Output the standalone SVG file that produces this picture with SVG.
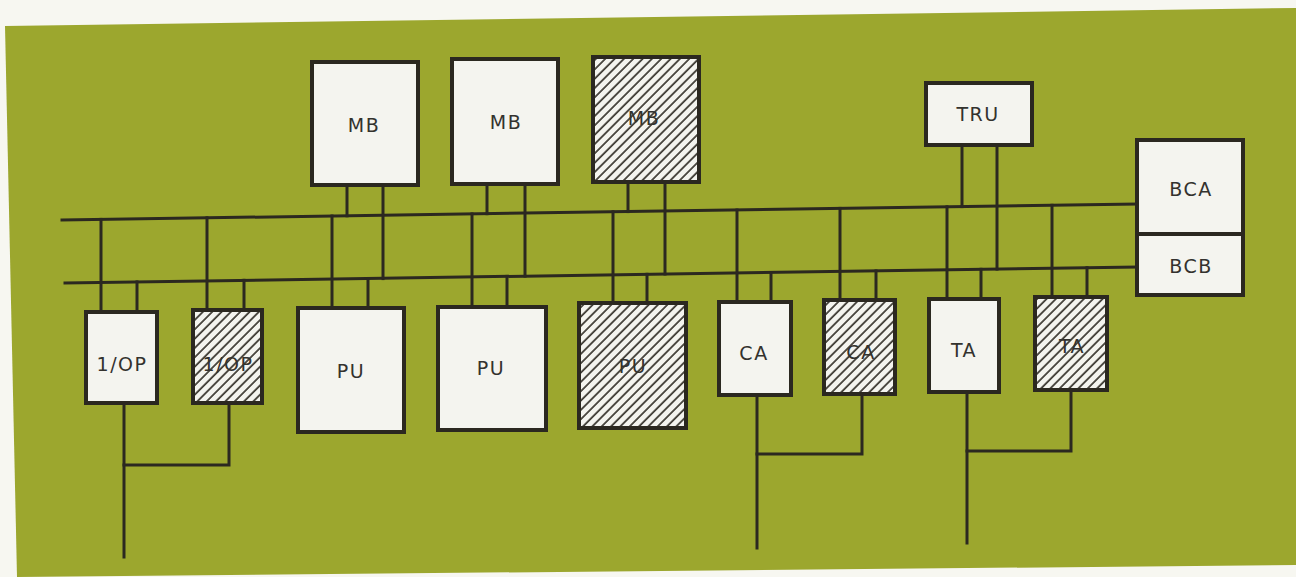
<svg xmlns="http://www.w3.org/2000/svg" width="1296" height="577" viewBox="0 0 1296 577">
<style>
.box{fill:#f4f4ef;stroke:#2b2820;stroke-width:4}
.hbox{fill:url(#hatch);stroke:#2b2820;stroke-width:4}
.ln{stroke:#2b2820;stroke-width:3;fill:none;stroke-linecap:square}
.lbl{font-family:"DejaVu Sans","Liberation Sans",sans-serif;font-size:19px;fill:#33322e;text-anchor:middle;letter-spacing:1.5px}
</style>
<defs>
<pattern id="hatch" patternUnits="userSpaceOnUse" width="6.6" height="6.6" patternTransform="rotate(45)">
<rect width="6.6" height="6.6" fill="#f4f4ef"/>
<line x1="1" y1="0" x2="1" y2="6.6" stroke="#2b2820" stroke-width="1.6"/>
</pattern>
</defs>
<rect width="1296" height="577" fill="#f7f7f1"/>
<polygon points="5,26 1296,8 1296,565 17,577" fill="#9ca72e"/>
<g id="connectors">
<line class="ln" x1="62" y1="220" x2="1137" y2="204"/>
<line class="ln" x1="65" y1="283" x2="1137" y2="267"/>
<line class="ln" x1="101" y1="219.4" x2="101" y2="312"/>
<line class="ln" x1="137" y1="281.9" x2="137" y2="312"/>
<line class="ln" x1="207" y1="217.8" x2="207" y2="310"/>
<line class="ln" x1="244" y1="280.3" x2="244" y2="310"/>
<line class="ln" x1="347" y1="185" x2="347" y2="215.8"/>
<line class="ln" x1="383" y1="185" x2="383" y2="278.6"/>
<line class="ln" x1="332" y1="216" x2="332" y2="308"/>
<line class="ln" x1="368" y1="278.5" x2="368" y2="308"/>
<line class="ln" x1="487" y1="184" x2="487" y2="213.7"/>
<line class="ln" x1="525" y1="184" x2="525" y2="276.1"/>
<line class="ln" x1="472" y1="213.9" x2="472" y2="307"/>
<line class="ln" x1="507" y1="276.4" x2="507" y2="307"/>
<line class="ln" x1="628" y1="182" x2="628" y2="211.6"/>
<line class="ln" x1="665" y1="182" x2="665" y2="274"/>
<line class="ln" x1="613" y1="211.8" x2="613" y2="303"/>
<line class="ln" x1="647" y1="274.3" x2="647" y2="303"/>
<line class="ln" x1="737" y1="210" x2="737" y2="302"/>
<line class="ln" x1="771" y1="272.5" x2="771" y2="302"/>
<line class="ln" x1="840" y1="208.4" x2="840" y2="300"/>
<line class="ln" x1="876" y1="270.9" x2="876" y2="300"/>
<line class="ln" x1="962" y1="145" x2="962" y2="206.6"/>
<line class="ln" x1="997" y1="145" x2="997" y2="269.1"/>
<line class="ln" x1="947" y1="206.8" x2="947" y2="299"/>
<line class="ln" x1="981" y1="269.3" x2="981" y2="299"/>
<line class="ln" x1="1052" y1="205.3" x2="1052" y2="297"/>
<line class="ln" x1="1087" y1="267.7" x2="1087" y2="297"/>
<polyline class="ln" points="124,403 124,557"/>
<polyline class="ln" points="229,403 229,465 124,465"/>
<polyline class="ln" points="757,395 757,548"/>
<polyline class="ln" points="862,394 862,454 757,454"/>
<polyline class="ln" points="967,392 967,543"/>
<polyline class="ln" points="1071,390 1071,451 967,451"/>
</g>
<g id="mb1"><rect class="box" x="312" y="62" width="106" height="123"/><text class="lbl" x="364" y="132">MB</text></g>
<g id="mb2"><rect class="box" x="452" y="59" width="106" height="125"/><text class="lbl" x="506" y="129">MB</text></g>
<g id="mb3"><rect class="hbox" x="593" y="57" width="106" height="125"/><text class="lbl" x="644" y="125">MB</text></g>
<g id="tru"><rect class="box" x="926" y="83" width="106" height="62"/><text class="lbl" x="978" y="121">TRU</text></g>
<g id="bca"><rect class="box" x="1137" y="140" width="106" height="94"/><text class="lbl" x="1191" y="196">BCA</text></g>
<g id="bcb"><rect class="box" x="1137" y="234" width="106" height="61"/><text class="lbl" x="1191" y="273">BCB</text></g>
<g id="iop1"><rect class="box" x="86" y="312" width="71" height="91"/><text class="lbl" x="122" y="371">1/OP</text></g>
<g id="iop2"><rect class="hbox" x="193" y="310" width="69" height="93"/><text class="lbl" x="228" y="371">1/OP</text></g>
<g id="pu1"><rect class="box" x="298" y="308" width="106" height="124"/><text class="lbl" x="351" y="378">PU</text></g>
<g id="pu2"><rect class="box" x="438" y="307" width="108" height="123"/><text class="lbl" x="491" y="375">PU</text></g>
<g id="pu3"><rect class="hbox" x="579" y="303" width="107" height="125"/><text class="lbl" x="633" y="373">PU</text></g>
<g id="ca1"><rect class="box" x="719" y="302" width="72" height="93"/><text class="lbl" x="754" y="360">CA</text></g>
<g id="ca2"><rect class="hbox" x="824" y="300" width="71" height="94"/><text class="lbl" x="861" y="359">CA</text></g>
<g id="ta1"><rect class="box" x="929" y="299" width="70" height="93"/><text class="lbl" x="964" y="357">TA</text></g>
<g id="ta2"><rect class="hbox" x="1035" y="297" width="72" height="93"/><text class="lbl" x="1072" y="353">TA</text></g>
</svg>
